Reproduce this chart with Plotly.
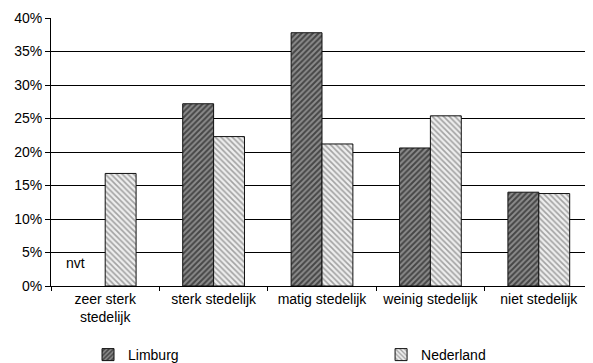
import plotly.graph_objects as go

categories = ["zeer sterk<br>stedelijk", "sterk stedelijk", "matig stedelijk", "weinig stedelijk", "niet stedelijk"]
limburg = [None, 27.2, 37.8, 20.6, 14.0]
nederland = [16.8, 22.3, 21.2, 25.4, 13.8]
y_ticks = [0, 5, 10, 15, 20, 25, 30, 35, 40]
y_labels = [f"{v}%" for v in y_ticks]

FONT = "Liberation Sans, Arial, sans-serif"

fig = go.Figure()
fig.add_trace(go.Bar(
    name="Limburg", x=categories, y=limburg, legend="legend",
    marker=dict(color="#777777", line=dict(color="#111", width=1),
                pattern=dict(shape="/", fgcolor="#000", bgcolor="#8c8c8c", size=4, solidity=0.5)),
))
fig.add_trace(go.Bar(
    name="Nederland", x=categories, y=nederland, legend="legend2",
    marker=dict(color="#cccccc", line=dict(color="#111", width=1),
                pattern=dict(shape="\\", fgcolor="#555", bgcolor="#eeeeee", size=4, solidity=0.4)),
))

fig.add_annotation(x=categories[0], y=3.4, text="nvt", showarrow=False, xshift=-30,
                   font=dict(size=14, color="#000", family=FONT))

legend_common = dict(orientation="h", yanchor="middle", xanchor="left", y=-0.2575,
                     itemwidth=30, font=dict(size=14, family=FONT), bgcolor="rgba(0,0,0,0)")

fig.update_layout(
    width=585, height=363,
    margin=dict(l=43, r=0, t=10, b=85),
    paper_bgcolor="white", plot_bgcolor="white",
    font=dict(family=FONT, size=14, color="#000"),
    barmode="group", bargap=0.43, bargroupgap=0,
    showlegend=True,
    legend=dict(x=0.0683, **legend_common),
    legend2=dict(x=0.609, **legend_common),
    xaxis=dict(range=[-0.5, 4.5], showline=True, linecolor="#000", linewidth=1, ticks="outside",
               tickson="boundaries", ticklen=4, tickcolor="#000", showgrid=False,
               automargin=False),
    yaxis=dict(range=[0, 40], tickvals=y_ticks, ticktext=y_labels, showline=True,
               linecolor="#000", linewidth=1, ticks="outside", ticklen=5, tickcolor="#000",
               showgrid=True, gridcolor="#000", gridwidth=1, zeroline=False,
               automargin=False),
)

fig.write_html("out.html")
